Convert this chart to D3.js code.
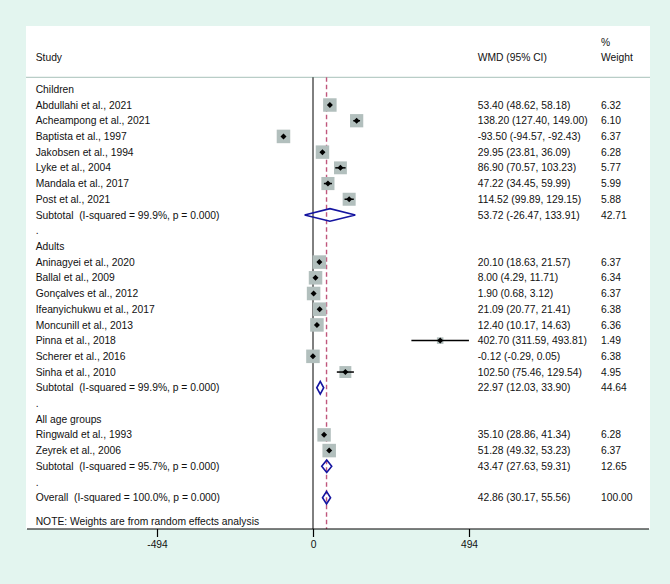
<!DOCTYPE html>
<html>
<head>
<meta charset="utf-8">
<script src="https://cdn.jsdelivr.net/npm/d3@7"></script>
<style>
  body { margin: 0; background: #e3f5ef; }
  text { font-family: "Liberation Sans", Arial, sans-serif; font-size: 10.3px; fill: #111; white-space: pre; }
</style>
</head>
<body>
<div class="forest"></div>
<script>
// size of the page
let svg_width = 670;
let svg_height = 584;

// groups and subtotals
let groups = ["Children", "Adults", "All age groups"];
let subtotal_labels = [
    "Subtotal  (I-squared = 99.9%, p = 0.000)",
    "Subtotal  (I-squared = 99.9%, p = 0.000)",
    "Subtotal  (I-squared = 95.7%, p = 0.000)"
];
let sub_wmd  = [53.72, 22.97, 43.47];
let sub_low  = [-26.47, 12.03, 27.63];
let sub_high = [133.91, 33.90, 59.31];
let sub_weight = ["42.71", "44.64", "12.65"];

// studies
let studies = [
    "Abdullahi et al., 2021", "Acheampong et al., 2021", "Baptista et al., 1997",
    "Jakobsen et al., 1994", "Lyke et al., 2004", "Mandala et al., 2017", "Post et al., 2021",
    "Aninagyei et al., 2020", "Ballal et al., 2009", "Gonçalves et al., 2012",
    "Ifeanyichukwu et al., 2017", "Moncunill et al., 2013", "Pinna et al., 2018",
    "Scherer et al., 2016", "Sinha et al., 2010",
    "Ringwald et al., 1993", "Zeyrek et al., 2006"
];
let study_group = [0, 0, 0, 0, 0, 0, 0, 1, 1, 1, 1, 1, 1, 1, 1, 2, 2];
let wmd     = [53.40, 138.20, -93.50, 29.95, 86.90, 47.22, 114.52, 20.10, 8.00, 1.90, 21.09, 12.40, 402.70, -0.12, 102.50, 35.10, 51.28];
let ci_low  = [48.62, 127.40, -94.57, 23.81, 70.57, 34.45, 99.89, 18.63, 4.29, 0.68, 20.77, 10.17, 311.59, -0.29, 75.46, 28.86, 49.32];
let ci_high = [58.18, 149.00, -92.43, 36.09, 103.23, 59.99, 129.15, 21.57, 11.71, 3.12, 21.41, 14.63, 493.81, 0.05, 129.54, 41.34, 53.23];
let weights = [6.32, 6.10, 6.37, 6.28, 5.77, 5.99, 5.88, 6.37, 6.34, 6.37, 6.38, 6.36, 1.49, 6.38, 4.95, 6.28, 6.37];

// overall
let overall_label = "Overall  (I-squared = 100.0%, p = 0.000)";
let overall = [42.86, 30.17, 55.56];
let overall_weight = "100.00";

let x_ticks = [-494, 0, 494];

// ================================================
function fmt(v) { return v.toFixed(2); }
function ciText(m, l, h) { return fmt(m) + " (" + fmt(l) + ", " + fmt(h) + ")"; }

// build the row list
let rows = [];
groups.forEach(function(g, gi) {
    rows.push({ type: "head", label: g });
    studies.forEach(function(s, i) {
        if (study_group[i] === gi) {
            rows.push({ type: "study", label: s, m: wmd[i], l: ci_low[i], h: ci_high[i], w: weights[i],
                        ci: ciText(wmd[i], ci_low[i], ci_high[i]), wt: weights[i].toFixed(2) });
        }
    });
    rows.push({ type: "sub", label: subtotal_labels[gi], m: sub_wmd[gi], l: sub_low[gi], h: sub_high[gi],
                ci: ciText(sub_wmd[gi], sub_low[gi], sub_high[gi]), wt: sub_weight[gi] });
    rows.push({ type: "dot", label: "." });
});
rows.push({ type: "sub", label: overall_label, m: overall[0], l: overall[1], h: overall[2],
            ci: ciText(overall[0], overall[1], overall[2]), wt: overall_weight });

// scales
let x_scale = d3.scaleLinear().domain([-494, 494]).range([157, 469]);
let y_scale = d3.scalePoint().domain(d3.range(rows.length)).range([89.3, 497.7]);

let panel = { left: 26, right: 650, top: 26, bottom: 529 };
let col_study = 35.7, col_ci = 477.7, col_wt = 601;

let svg = d3.select('.forest')
            .append('svg')
            .attr('width', svg_width)
            .attr('height', svg_height);

svg.append('rect')
    .attr('x', panel.left).attr('y', panel.top)
    .attr('width', panel.right - panel.left).attr('height', panel.bottom - panel.top)
    .attr('fill', '#fff');

// header
svg.append('text').attr('x', col_wt).attr('y', 42.3).attr('dy', '0.35em').text('%');
svg.append('text').attr('x', col_wt).attr('y', 57.7).attr('dy', '0.35em').text('Weight');
svg.append('text').attr('x', col_ci).attr('y', 57.7).attr('dy', '0.35em').text('WMD (95% CI)');
svg.append('text').attr('x', col_study).attr('y', 57.7).attr('dy', '0.35em').text('Study');
svg.append('line')
    .attr('x1', panel.left).attr('x2', panel.right)
    .attr('y1', 77.3).attr('y2', 77.3)
    .attr('stroke', '#b9cdc7').attr('stroke-width', 1.2);

// null line and overall line
svg.append('line')
    .attr('x1', x_scale(0)).attr('x2', x_scale(0))
    .attr('y1', 77.3).attr('y2', panel.bottom)
    .attr('stroke', '#000').attr('stroke-width', 1);
svg.append('line')
    .attr('x1', x_scale(overall[0])).attr('x2', x_scale(overall[0]))
    .attr('y1', 77.3).attr('y2', panel.bottom)
    .attr('stroke', '#c0577c').attr('stroke-width', 1.4)
    .attr('stroke-dasharray', '4.5,3');

// labels
rows.forEach(function(r, i) {
    let y = y_scale(i);
    svg.append('text').attr('x', col_study).attr('y', y).attr('dy', '0.35em').text(r.label);
    if (r.ci) {
        svg.append('text').attr('x', col_ci).attr('y', y).attr('dy', '0.35em').text(r.ci);
        svg.append('text').attr('x', col_wt).attr('y', y).attr('dy', '0.35em').text(r.wt);
    }
});

// study markers
let study_rows = rows.map(function(r, i) { return { r: r, i: i }; })
                     .filter(function(d) { return d.r.type === "study"; });

svg.selectAll('rect.box')
    .data(study_rows)
    .enter()
    .append('rect')
    .attr('class', 'box')
    .attr('fill', '#b2bfbd')
    .attr('x', function(d) { return x_scale(d.r.m) - 2.68 * Math.sqrt(d.r.w); })
    .attr('y', function(d) { return y_scale(d.i) - 2.68 * Math.sqrt(d.r.w); })
    .attr('width', function(d) { return 5.36 * Math.sqrt(d.r.w); })
    .attr('height', function(d) { return 5.36 * Math.sqrt(d.r.w); });

svg.selectAll('line.ci')
    .data(study_rows)
    .enter()
    .append('line')
    .attr('class', 'ci')
    .attr('x1', function(d) { return x_scale(d.r.l); })
    .attr('x2', function(d) { return x_scale(d.r.h); })
    .attr('y1', function(d) { return y_scale(d.i); })
    .attr('y2', function(d) { return y_scale(d.i); })
    .attr('stroke', '#000').attr('stroke-width', 1.5);

svg.selectAll('path.pt')
    .data(study_rows)
    .enter()
    .append('path')
    .attr('class', 'pt')
    .attr('d', function(d) {
        let x = x_scale(d.r.m), y = y_scale(d.i), s = 3;
        return 'M' + (x - s) + ',' + y + 'L' + x + ',' + (y - s) + 'L' + (x + s) + ',' + y + 'L' + x + ',' + (y + s) + 'Z';
    })
    .attr('fill', '#000');

// pooled diamonds
let sub_rows = rows.map(function(r, i) { return { r: r, i: i }; })
                   .filter(function(d) { return d.r.type === "sub"; });

svg.selectAll('path.dia')
    .data(sub_rows)
    .enter()
    .append('path')
    .attr('class', 'dia')
    .attr('d', function(d) {
        let y = y_scale(d.i), h = 6.3;
        return 'M' + x_scale(d.r.l) + ',' + y + 'L' + x_scale(d.r.m) + ',' + (y - h) +
               'L' + x_scale(d.r.h) + ',' + y + 'L' + x_scale(d.r.m) + ',' + (y + h) + 'Z';
    })
    .attr('fill', 'none')
    .attr('stroke', '#1414a0')
    .attr('stroke-width', 1.6);

// note
svg.append('text').attr('x', col_study).attr('y', 521).attr('dy', '0.35em')
    .text('NOTE: Weights are from random effects analysis');

// axis
let axis = svg.append('g')
    .attr('transform', 'translate(0,' + panel.bottom + ')')
    .call(d3.axisBottom(x_scale).tickValues(x_ticks).tickSize(8).tickPadding(4)
            .tickFormat(function(d) { return String(d); }));
axis.select('.domain').remove();
axis.selectAll('.tick line').attr('stroke', '#000').attr('stroke-width', 1.2);
axis.selectAll('.tick text').style('font-family', '"Liberation Sans", Arial, sans-serif').style('font-size', '10.3px').attr('fill', '#111');
svg.append('line')
    .attr('x1', panel.left + 1).attr('x2', panel.right - 1)
    .attr('y1', panel.bottom).attr('y2', panel.bottom)
    .attr('stroke', '#000').attr('stroke-width', 1.2);
</script>
</body>
</html>
